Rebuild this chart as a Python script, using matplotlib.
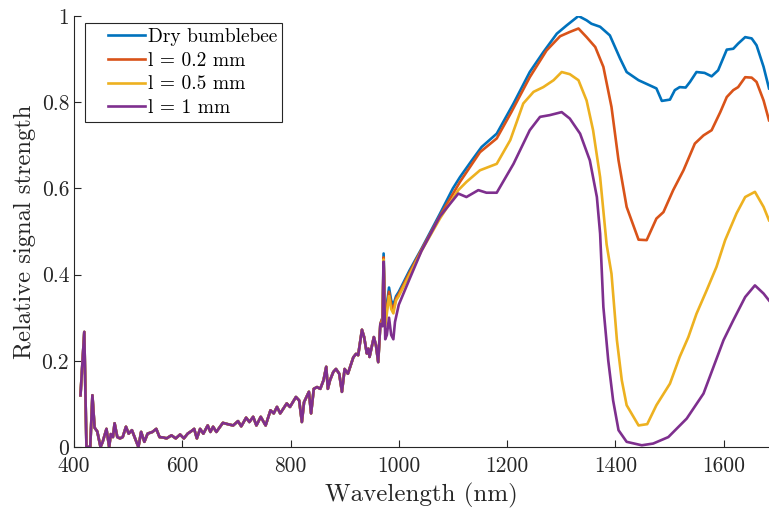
import numpy as np
import matplotlib
matplotlib.use("Agg")
import matplotlib.pyplot as plt
from matplotlib.legend_handler import HandlerLine2D

# shared noisy part below ~970 nm (all four curves lie on top of each other)
wl_low = [412, 419, 423, 430, 434, 438, 443, 449, 453, 460, 465, 468, 472, 475, 480,
          485, 490, 496, 501, 507, 512, 519, 524, 530, 536, 545, 552, 558, 565, 571,
          580, 588, 596, 603, 610, 617, 622, 627, 633, 639, 647, 652, 657, 663, 675,
          684, 694, 703, 709, 718, 724, 731, 737, 745, 754, 763, 769, 775, 781, 793,
          799, 810, 816, 821, 825, 834, 838, 843, 849, 855, 861, 866, 869, 873, 879,
          884, 890, 895, 900, 906, 916, 921, 925, 932, 936, 941, 944, 946, 954, 958,
          962, 966]
sig_low = [0.12, 0.267, 0.0, 0.0, 0.12, 0.045, 0.036, 0.0, 0.012, 0.042, 0.0, 0.03, 0.023, 0.055, 0.023,
           0.02, 0.023, 0.047, 0.031, 0.039, 0.023, 0.0, 0.035, 0.012, 0.031, 0.035, 0.042, 0.023, 0.022, 0.02,
           0.027, 0.02, 0.029, 0.02, 0.031, 0.037, 0.042, 0.02, 0.042, 0.031, 0.05, 0.035, 0.047, 0.035, 0.056,
           0.053, 0.05, 0.06, 0.048, 0.068, 0.058, 0.07, 0.05, 0.07, 0.05, 0.085, 0.078, 0.093, 0.078, 0.101,
           0.093, 0.116, 0.108, 0.058, 0.104, 0.128, 0.078, 0.135, 0.139, 0.135, 0.155, 0.186, 0.135, 0.155, 0.174,
           0.181, 0.17, 0.128, 0.181, 0.17, 0.208, 0.216, 0.213, 0.272, 0.255, 0.217, 0.228, 0.209, 0.255, 0.235,
           0.197, 0.286]

wl_dry = [970, 972, 975, 978, 982, 986, 990, 995, 1000, 1020, 1042, 1076, 1100, 1113, 1135,
          1153, 1181, 1212, 1242, 1267, 1292, 1310, 1332, 1347, 1356, 1372, 1390, 1409, 1421, 1443,
          1464, 1476, 1486, 1501, 1510, 1519, 1530, 1538, 1550, 1565, 1578, 1590, 1606, 1618, 1627,
          1640, 1652, 1661, 1674, 1684]
sig_dry = [0.30, 0.449, 0.30, 0.33, 0.37, 0.34, 0.33, 0.35, 0.36, 0.41, 0.46, 0.541, 0.60, 0.626, 0.665,
           0.696, 0.727, 0.797, 0.87, 0.916, 0.959, 0.978, 1.0, 0.99, 0.982, 0.975, 0.955, 0.901, 0.87, 0.851,
           0.839, 0.832, 0.803, 0.806, 0.828, 0.835, 0.834, 0.847, 0.87, 0.868, 0.86, 0.874, 0.922, 0.924, 0.936,
           0.951, 0.948, 0.932, 0.882, 0.832]

wl_02 = [970, 972, 975, 978, 982, 986, 990, 995, 1000, 1020, 1042, 1076, 1113, 1150, 1181,
         1208, 1242, 1273, 1298, 1316, 1332, 1347, 1363, 1378, 1393, 1406, 1421, 1443, 1458, 1476,
         1489, 1507, 1526, 1547, 1563, 1578, 1594, 1606, 1618, 1627, 1640, 1652, 1661, 1674, 1684]
sig_02 = [0.30, 0.44, 0.29, 0.32, 0.36, 0.33, 0.32, 0.345, 0.355, 0.405, 0.458, 0.536, 0.615, 0.684, 0.716,
          0.777, 0.858, 0.92, 0.953, 0.963, 0.971, 0.951, 0.928, 0.882, 0.789, 0.665, 0.557, 0.481, 0.48, 0.53,
          0.545, 0.596, 0.642, 0.704, 0.723, 0.735, 0.777, 0.812, 0.828, 0.835, 0.858, 0.857, 0.847, 0.804, 0.758]

wl_05 = [970, 972, 975, 978, 982, 986, 990, 995, 1000, 1020, 1042, 1076, 1110, 1125, 1150,
         1181, 1206, 1230, 1249, 1267, 1286, 1301, 1316, 1332, 1347, 1359, 1372, 1384, 1393, 1403,
         1412, 1421, 1443, 1459, 1476, 1501, 1519, 1535, 1550, 1569, 1587, 1603, 1624, 1640, 1658,
         1674, 1684]
sig_05 = [0.29, 0.435, 0.28, 0.31, 0.35, 0.32, 0.31, 0.34, 0.35, 0.40, 0.455, 0.53, 0.596, 0.615, 0.642,
          0.657, 0.712, 0.797, 0.824, 0.835, 0.851, 0.87, 0.865, 0.851, 0.804, 0.735, 0.626, 0.47, 0.402, 0.248,
          0.155, 0.097, 0.05, 0.053, 0.097, 0.147, 0.209, 0.255, 0.309, 0.364, 0.418, 0.48, 0.542, 0.58, 0.592,
          0.557, 0.526]

wl_1 = [970, 972, 975, 978, 982, 986, 990, 993, 1000, 1020, 1042, 1076, 1110, 1125, 1147,
        1162, 1181, 1212, 1242, 1261, 1279, 1301, 1316, 1335, 1353, 1366, 1372, 1378, 1387, 1396,
        1406, 1421, 1449, 1470, 1498, 1532, 1563, 1600, 1618, 1640, 1658, 1674, 1684]
sig_1 = [0.28, 0.43, 0.25, 0.26, 0.30, 0.26, 0.25, 0.29, 0.33, 0.39, 0.455, 0.535, 0.588, 0.58, 0.596,
         0.59, 0.59, 0.657, 0.735, 0.766, 0.77, 0.777, 0.762, 0.727, 0.665, 0.58, 0.495, 0.325, 0.201, 0.108,
         0.039, 0.012, 0.004, 0.008, 0.023, 0.066, 0.124, 0.248, 0.294, 0.348, 0.375, 0.356, 0.34]

names = ["Dry bumblebee", "l = 0.2 mm", "l = 0.5 mm", "l = 1 mm"]
colors = ["#0072BD", "#D95319", "#EDB120", "#7E2F8E"]

xticks = [400, 600, 800, 1000, 1200, 1400, 1600]
yticks = [0, 0.2, 0.4, 0.6, 0.8, 1]
ytick_labels = ["0", "0.2", "0.4", "0.6", "0.8", "1"]

plt.rcParams["font.family"] = "serif"
plt.rcParams["font.serif"] = ["cmr10"]
plt.rcParams["mathtext.fontset"] = "cm"
plt.rcParams["axes.unicode_minus"] = False

fig = plt.figure(figsize=(7.69, 5.11), dpi=100)
ax = fig.add_axes([74 / 769, 64 / 511, 695 / 769, 431 / 511])

series = [(wl_dry, sig_dry), (wl_02, sig_02), (wl_05, sig_05), (wl_1, sig_1)]
for (wl, sig), name, c in zip(series, names, colors):
    ax.plot(wl_low + wl, sig_low + sig, color=c, lw=1.9, label=name)

ax.set_xlim(400, 1684)
ax.set_ylim(0, 1)
ax.set_xticks(xticks)
ax.set_xticklabels([str(t) for t in xticks])
ax.set_yticks(yticks)
ax.set_yticklabels(ytick_labels)

ink = "#262626"
for s in ["top", "right"]:
    ax.spines[s].set_visible(False)
for s in ["left", "bottom"]:
    ax.spines[s].set_color(ink)
    ax.spines[s].set_linewidth(0.8)
ax.tick_params(direction="in", length=5, width=0.8, colors=ink, labelsize=15.5)
ax.tick_params(axis="x", pad=6.5)

ax.set_xlabel("Wavelength (nm)", fontsize=18, color=ink, labelpad=5)
ax.set_ylabel("Relative signal strength", fontsize=17.7, color=ink)

leg = ax.legend(loc="upper left", bbox_to_anchor=(11 / 695, 1 - 7 / 431), borderaxespad=0,
                fontsize=14, fancybox=False, framealpha=1, edgecolor=ink,
                handlelength=2.84, handletextpad=0.15, borderpad=0.25, labelspacing=0.3,
                handler_map={plt.Line2D: HandlerLine2D(xpad=0.93)})
leg.get_frame().set_linewidth(0.8)

fig.savefig("out.png", dpi=100)
